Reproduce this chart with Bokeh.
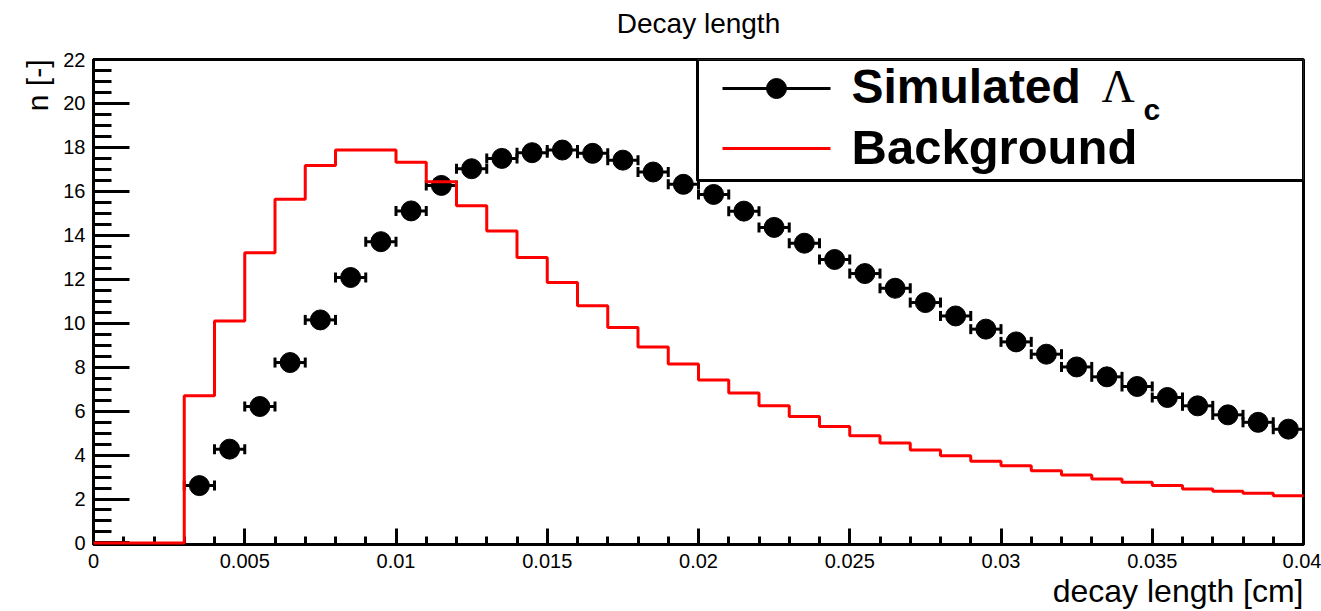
import numpy as np
from bokeh.plotting import figure
from bokeh.models import Range1d, SingleIntervalTicker, CustomJSTickFormatter, Label, Title
from bokeh.embed import file_html
from bokeh.resources import INLINE

# ---------------- data ----------------
title_text = "Decay length"
x_label = "decay length [cm]"
y_label = "n [-]"
legend_sig = "Simulated"
legend_bkg = "Background"

bin_width = 0.001
n_bins = 40
x_min, x_max = 0.0, 0.04
y_min, y_max = 0.0, 22.0

bkg_counts = [0, 0, 0, 6.7, 10.1, 13.21, 15.64, 17.18, 17.88, 17.88,
              17.33, 16.44, 15.34, 14.2, 12.99, 11.85, 10.79, 9.8, 8.92, 8.14,
              7.42, 6.82, 6.24, 5.76, 5.3, 4.88, 4.55, 4.23, 3.97, 3.72,
              3.51, 3.29, 3.09, 2.91, 2.76, 2.61, 2.45, 2.35, 2.26, 2.15]

sig_first_bin = 3
sig_counts = [2.61, 4.27, 6.21, 8.21, 10.15, 12.08, 13.71, 15.11, 16.27, 17.03,
              17.5, 17.76, 17.88, 17.73, 17.42, 16.88, 16.32, 15.86, 15.1, 14.36,
              13.64, 12.9, 12.26, 11.59, 10.94, 10.33, 9.73, 9.15, 8.59, 8.01,
              7.56, 7.12, 6.62, 6.24, 5.83, 5.49, 5.18]

# ---------------- layout ----------------
W, H = 1321, 611
FL, FR, FT, FB = 93, 1303, 59, 544
FONT = "Liberation Sans"
y_pad = 0.07  # keeps the zero-level line visible on top of the frame edge
y_lo = y_min - y_pad


def dx(px):
    return x_min + (px - FL) * (x_max - x_min) / (FR - FL)


def dy(py):
    return y_lo + (FB - py) * (y_max - y_lo) / (FB - FT)


edges = np.arange(n_bins + 1) * bin_width
step_y = list(bkg_counts) + [bkg_counts[-1]]
sig_lo = edges[sig_first_bin:sig_first_bin + len(sig_counts)]
sig_hi = sig_lo + bin_width
sig_x = sig_lo + bin_width / 2

p = figure(width=W, height=H, x_range=Range1d(x_min, x_max), y_range=Range1d(y_lo, y_max),
           output_backend="svg", toolbar_location=None,
           min_border_left=FL, min_border_right=W - FR, min_border_top=FT, min_border_bottom=H - FB)
p.title.text = title_text
p.title.align = "center"
p.title.vertical_align = "top"
p.title.text_font = FONT
p.title.text_font_size = "28px"
p.title.text_font_style = "normal"
p.title.text_color = "black"
p.title.standoff = 6
p.title.offset = 7

# invisible spacer between the title and the frame
p.add_layout(Title(text=" ", text_font_size="12px", standoff=0), "above")

p.xgrid.visible = False
p.ygrid.visible = False
p.outline_line_color = "black"
p.outline_line_width = 3
p.background_fill_color = "white"
p.border_fill_color = "white"

xa = p.xaxis[0]
xa.ticker = SingleIntervalTicker(interval=0.005, num_minor_ticks=5)
xa.formatter = CustomJSTickFormatter(code="return String(Math.round(tick*10000)/10000);")
xa.major_tick_in = 16
xa.major_tick_out = 0
xa.minor_tick_in = 8
xa.minor_tick_out = 0
xa.major_label_standoff = 9

ya = p.yaxis[0]
ya.ticker = SingleIntervalTicker(interval=2, num_minor_ticks=4)
ya.major_tick_in = 36
ya.major_tick_out = 0
ya.minor_tick_in = 18
ya.minor_tick_out = 0
ya.major_label_standoff = 8

for ax in (xa, ya):
    ax.axis_line_width = 3
    ax.axis_line_color = "black"
    ax.major_tick_line_width = 3
    ax.minor_tick_line_width = 3
    ax.major_tick_line_color = "black"
    ax.minor_tick_line_color = "black"
    ax.major_label_text_font = FONT
    ax.major_label_text_font_size = "20px"
    ax.major_label_text_color = "black"

p.add_layout(Title(text=x_label, align="right", text_font=FONT, text_font_size="32px",
                   text_font_style="normal", text_color="black", standoff=0), "below")
p.add_layout(Title(text=y_label, align="right", text_font=FONT, text_font_size="30px",
                   text_font_style="normal", text_color="black", standoff=14), "left")

# background histogram
bk = p.step(x=edges, y=step_y, mode="after", line_color="red", line_width=3)
bk.level = "overlay"

# simulated points with x error bars
p.segment(x0=sig_lo, y0=sig_counts, x1=sig_hi, y1=sig_counts, line_color="black", line_width=3)
p.scatter(x=sig_lo, y=sig_counts, marker="dash", angle=np.pi / 2, size=10,
          line_color="black", line_width=3)
p.scatter(x=sig_hi, y=sig_counts, marker="dash", angle=np.pi / 2, size=10,
          line_color="black", line_width=3)
p.scatter(x=sig_x, y=sig_counts, size=20, fill_color="black", line_color="black")

# legend box
p.quad(left=[dx(697)], right=[x_max], bottom=[dy(180)], top=[y_max],
       fill_color="white", line_color="black", line_width=3)
p.line(x=[dx(722), dx(830)], y=[dy(88), dy(88)], line_color="black", line_width=3)
p.scatter(x=[dx(776)], y=[dy(88)], size=20, fill_color="black", line_color="black")
p.line(x=[dx(722), dx(830)], y=[dy(148), dy(148)], line_color="red", line_width=3)

p.add_layout(Label(x=dx(851), y=dy(86), text=legend_sig, text_font=FONT, text_font_style="bold",
                   text_font_size="48px", text_baseline="middle", text_align="left", text_color="black"))
p.add_layout(Label(x=dx(1101), y=dy(86), text="Λ", text_font="Liberation Serif",
                   text_font_size="46px", text_baseline="middle", text_align="left", text_color="black"))
p.add_layout(Label(x=dx(1143), y=dy(109), text="c", text_font=FONT, text_font_style="bold",
                   text_font_size="30px", text_baseline="alphabetic", text_align="left", text_color="black"))
p.add_layout(Label(x=dx(851), y=dy(146), text=legend_bkg, text_font=FONT, text_font_style="bold",
                   text_font_size="49px", text_baseline="middle", text_align="left", text_color="black"))

open("out.html", "w").write(file_html(p, INLINE))
